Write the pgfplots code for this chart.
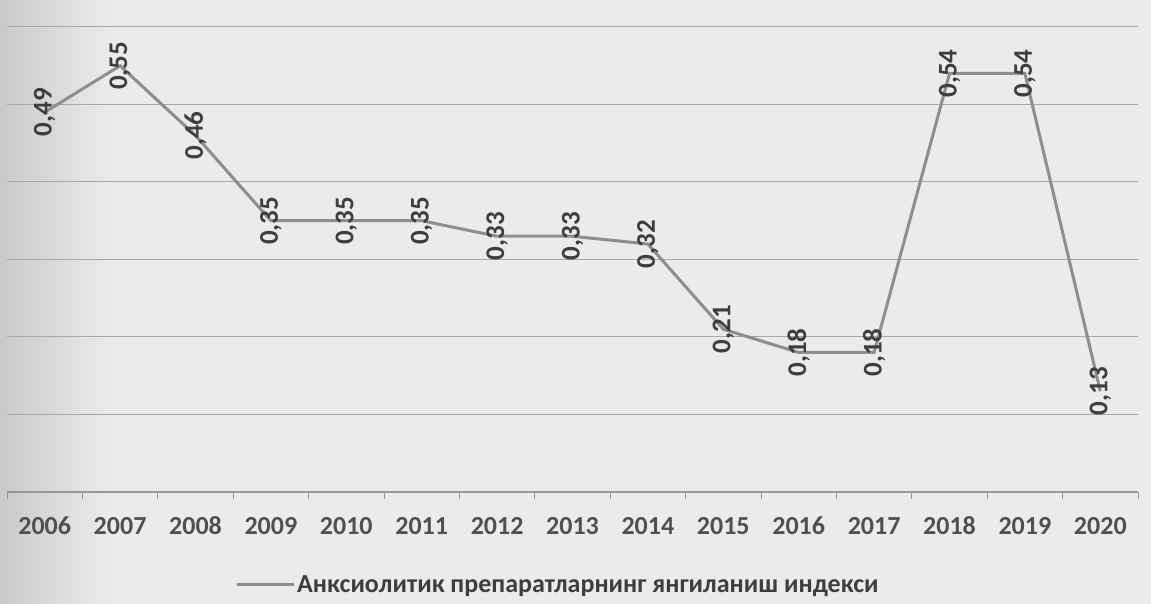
\documentclass[border=0pt]{standalone}
\usepackage{pgfplots}
\pgfplotsset{compat=1.18}
\usepackage{fontspec}
\setmainfont{Carlito}
\definecolor{paper}{HTML}{EBEBEB}
\definecolor{paperdark}{HTML}{C9C9C9}
\definecolor{seriesgray}{HTML}{8E8E8E}
\definecolor{gridgray}{HTML}{A8A8A8}
\definecolor{labelgray}{HTML}{3E3E3E}
\definecolor{tickgray}{HTML}{505050}

\pgfplotstableread{
year value
2006 0.49
2007 0.55
2008 0.46
2009 0.35
2010 0.35
2011 0.35
2012 0.33
2013 0.33
2014 0.32
2015 0.21
2016 0.18
2017 0.18
2018 0.54
2019 0.54
2020 0.13
}\indexdata

\begin{document}
\begin{tikzpicture}
\path[use as bounding box] (0pt,0pt) rectangle (1151pt,604pt);
\fill[paper] (0pt,0pt) rectangle (1151pt,604pt);
\shade[left color=paperdark, right color=paper] (0pt,0pt) rectangle (110pt,604pt);
\begin{axis}[
  at={(7pt,112pt)}, anchor=south west,
  scale only axis, width=1131pt, height=465pt,
  xmin=2005.5, xmax=2020.5, ymin=0, ymax=0.6,
  axis x line*=bottom, axis y line*=left,
  x axis line style={draw=gridgray!90!black, line width=1.2pt},
  y axis line style={draw=none},
  ytick={0.1,0.2,0.3,0.4,0.5,0.6}, yticklabels={},
  ytick style={draw=none},
  ymajorgrids, grid style={gridgray, line width=1pt},
  % category boundaries carry the small tick marks
  xtick={2005.5,2006.5,2007.5,2008.5,2009.5,2010.5,2011.5,2012.5,2013.5,2014.5,2015.5,2016.5,2017.5,2018.5,2019.5,2020.5},
  xticklabels={},
  tick align=outside, major tick length=7pt,
  xtick style={draw=gridgray!90!black, line width=1pt},
  % year labels sit at the category centres
  extra x ticks={2006,2007,2008,2009,2010,2011,2012,2013,2014,2015,2016,2017,2018,2019,2020},
  extra x tick labels={2006,2007,2008,2009,2010,2011,2012,2013,2014,2015,2016,2017,2018,2019,2020},
  extra x tick style={grid=none, major tick length=0pt,
    xticklabel style={font=\fontsize{26}{30}\selectfont\bfseries, text=tickgray,
      anchor=base, yshift=-43pt}},
  legend style={draw=none, fill=none, inner sep=0pt,
    at={(0.2016,-0.2)}, anchor=west,
    font=\fontsize{26}{30}\selectfont\bfseries, text=labelgray,
    /tikz/every even column/.append style={column sep=0pt}},
  legend image code/.code={\draw[#1] (0pt,0pt) -- (57pt,0pt);},
  clip=false,
]
\addplot[seriesgray, line width=3pt, mark=none,
  nodes near coords={\pgfmathprintnumber[use comma,fixed,fixed zerofill,precision=2,assume math mode=true]{\pgfplotspointmeta}},
  every node near coord/.append style={rotate=90, anchor=center, inner sep=0pt,
    font=\fontsize{27}{30}\selectfont\bfseries, text=labelgray}]
  table[x=year, y=value] {\indexdata};
\addlegendentry{Анксиолитик препаратларнинг янгиланиш индекси}
\end{axis}
\end{tikzpicture}
\end{document}
